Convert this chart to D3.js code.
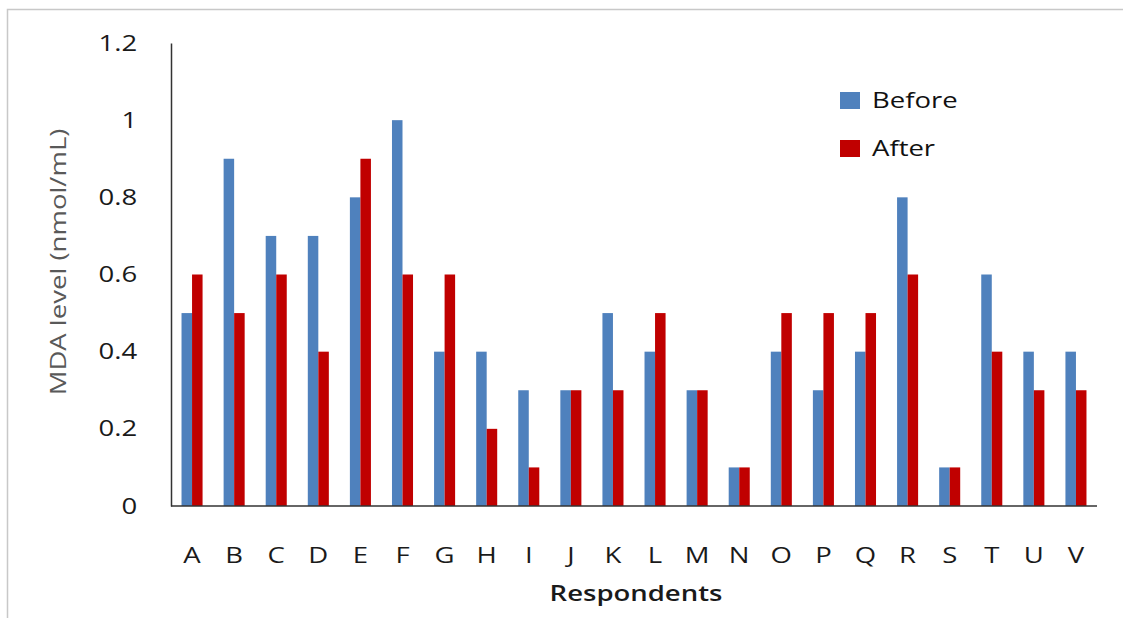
<!DOCTYPE html>
<html>
<head>
<meta charset="utf-8">
<script src="https://cdn.jsdelivr.net/npm/d3@7"></script>
<style>
  body { margin: 0; background: #fff; }
  text { font-family: "Open Sans", "DejaVu Sans", sans-serif; }
</style>
</head>
<body>
<div id="chart"></div>
<script>
var categories = ["A","B","C","D","E","F","G","H","I","J","K","L","M","N","O","P","Q","R","S","T","U","V"];
var before = [0.5,0.9,0.7,0.7,0.8,1.0,0.4,0.4,0.3,0.3,0.5,0.4,0.3,0.1,0.4,0.3,0.4,0.8,0.1,0.6,0.4,0.4];
var after  = [0.6,0.5,0.6,0.4,0.9,0.6,0.6,0.2,0.1,0.3,0.3,0.5,0.3,0.1,0.5,0.5,0.5,0.6,0.1,0.4,0.3,0.3];
var series = ["Before","After"];
var colors = ["#4F81BD","#C00000"];
var yTicks = [0,0.2,0.4,0.6,0.8,1,1.2];

var W = 1123, H = 618;
var m = {t:43, r:26, b:112, l:171};
var sx = 1.25; // the source font is drawn wide

var svg = d3.select("#chart").append("svg")
  .attr("width", W)
  .attr("height", H);

// outer chart frame (clipped at right and bottom)
svg.append("rect")
  .attr("x", 7.5).attr("y", 9.5)
  .attr("width", W).attr("height", H)
  .attr("fill", "none")
  .attr("stroke", "#c8c8c8")
  .attr("stroke-width", 1.5);

var x = d3.scaleBand()
  .domain(categories)
  .range([m.l, W - m.r])
  .paddingInner(0.5)
  .paddingOuter(0.25);

var x1 = d3.scaleBand()
  .domain(series)
  .range([0, x.bandwidth()]);

var y = d3.scaleLinear()
  .domain([0, 1.2])
  .range([H - m.b, m.t]);

var rows = categories.map(function(c, i){
  return {key: c, values: [before[i], after[i]]};
});

// bars
var groups = svg.selectAll(".grp")
  .data(rows)
  .enter().append("g")
  .attr("class","grp")
  .attr("transform", function(d){ return "translate(" + x(d.key) + ",0)"; });

groups.selectAll("rect")
  .data(function(d){ return d.values.map(function(v, j){ return {s: series[j], v: v, j: j}; }); })
  .enter().append("rect")
  .attr("x", function(d){ return x1(d.s); })
  .attr("y", function(d){ return y(d.v); })
  .attr("width", x1.bandwidth())
  .attr("height", function(d){ return y(0) - y(d.v); })
  .attr("fill", function(d){ return colors[d.j]; });

// y axis
var yAxis = svg.append("g")
  .attr("transform", "translate(" + m.l + ",0)")
  .call(d3.axisLeft(y).tickValues(yTicks).tickSize(0).tickPadding(27)
    .tickFormat(function(d){ return d3.format("")(+d.toFixed(1)); }));
yAxis.select(".domain").attr("stroke", "#333").attr("stroke-width", 1.5);
yAxis.selectAll("text")
  .attr("font-size", "22px")
  .attr("fill", "#1a1a1a")
  .attr("transform", "scale(" + sx + ",1)")
  .style("font-family", "'Open Sans', sans-serif");

// x axis
var xAxis = svg.append("g")
  .attr("transform", "translate(0," + y(0) + ")")
  .call(d3.axisBottom(x).tickSize(0).tickPadding(41).tickSizeOuter(0));
xAxis.select(".domain").attr("stroke", "#333").attr("stroke-width", 1.5)
  .attr("d", "M" + m.l + ",0H" + (W - m.r));
xAxis.selectAll("text")
  .attr("font-size", "22px")
  .attr("fill", "#1a1a1a")
  .attr("transform", "scale(" + sx + ",1)")
  .style("font-family", "'Open Sans', sans-serif");

// axis titles
svg.append("text")
  .attr("transform", "translate(66,262) rotate(-90) scale(" + sx + ",1)")
  .attr("text-anchor", "middle")
  .attr("font-size", "22px")
  .attr("fill", "#595959")
  .text("MDA level (nmol/mL)");

svg.append("text")
  .attr("transform", "translate(636,601) scale(" + sx + ",1)")
  .attr("text-anchor", "middle")
  .attr("font-size", "22px")
  .attr("font-weight", "600")
  .attr("fill", "#1a1a1a")
  .text("Respondents");

// legend
var legend = svg.selectAll(".legend")
  .data(series)
  .enter().append("g")
  .attr("class","legend")
  .attr("transform", function(d, i){ return "translate(840," + (92 + i * 48) + ")"; });

legend.append("rect")
  .attr("width", 20).attr("height", 17)
  .attr("fill", function(d, i){ return colors[i]; });

legend.append("text")
  .attr("transform", "translate(32,16) scale(" + sx + ",1)")
  .attr("font-size", "22px")
  .attr("fill", "#111")
  .text(function(d){ return d; });
</script>
</body>
</html>
